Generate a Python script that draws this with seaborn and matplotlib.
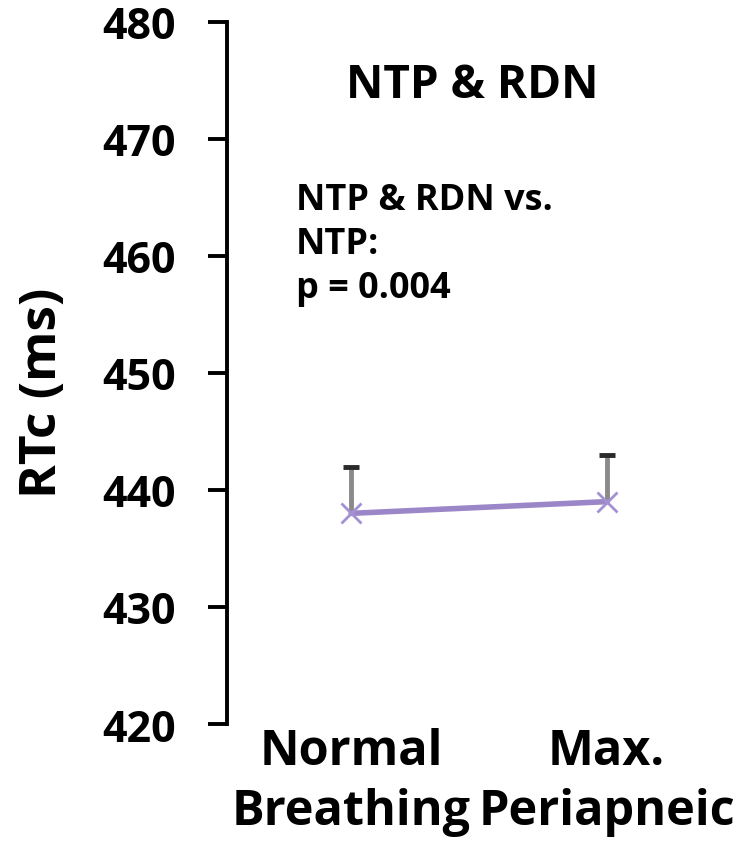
import matplotlib
matplotlib.use("Agg")
import matplotlib.pyplot as plt
import seaborn as sns
import pandas as pd

categories = ["Normal\nBreathing", "Max.\nPeriapneic"]
rtc_mean = [438, 439]
rtc_upper_err = [4, 4]
y_ticks = [420, 430, 440, 450, 460, 470, 480]
title_text = "NTP & RDN"
note_text = "NTP & RDN vs.\nNTP:\np = 0.004"

sns.set_theme(style="white")
plt.rcParams['font.family'] = ['Open Sans', 'DejaVu Sans']
plt.rcParams['font.weight'] = 'bold'
plt.rcParams['text.color'] = 'black'
plt.rcParams['axes.labelcolor'] = 'black'
plt.rcParams['xtick.color'] = 'black'
plt.rcParams['ytick.color'] = 'black'

df = pd.DataFrame({"cond": categories, "rtc": rtc_mean})

fig = plt.figure(figsize=(7.55, 8.45), dpi=100)
ax = fig.add_axes([0.3007, 0.142, 0.667, 0.831])

xpos = list(range(len(categories)))
ax.errorbar(xpos, rtc_mean, yerr=[[0] * len(rtc_upper_err), rtc_upper_err],
            fmt='none', ecolor='#8a8a8a', elinewidth=3.5, capsize=0, zorder=2)
ax.errorbar(xpos, [m + e for m, e in zip(rtc_mean, rtc_upper_err)], yerr=None,
            fmt='_', color='#2a2a2a', markersize=12, markeredgewidth=3.5, zorder=3)

sns.lineplot(data=df, x="cond", y="rtc", ax=ax, color='#9b86c8', linewidth=4,
             marker='x', markersize=15, markeredgewidth=2, markeredgecolor='#a391d2',
             sort=False, zorder=4)

ax.set_ylim(420, 480)
ax.set_xlim(-0.486, 1.486)
ax.set_yticks(y_ticks)
ax.set_yticklabels([str(t) for t in y_ticks], fontsize=31, fontweight='bold')
ax.set_xticks(xpos)
ax.set_xticklabels(categories, fontsize=35, fontweight='bold', linespacing=1.3)
ax.set_xlabel("")
ax.set_ylabel("RTc (ms)", fontsize=37, fontweight='bold')
ax.yaxis.set_label_coords(-0.316, 0.473)

for s in ['top', 'right', 'bottom']:
    ax.spines[s].set_visible(False)
ax.spines['left'].set_color('black')
ax.spines['left'].set_linewidth(2.8)
ax.tick_params(axis='y', direction='out', length=14, width=2.8, color='black', pad=23, left=True)
ax.tick_params(axis='x', length=0, pad=2)

ax.text(0.475, 473.6, title_text, ha='center', va='baseline', fontsize=33, fontweight='bold')
ax.text(-0.216, 466.3, note_text, ha='left', va='top', fontsize=26, fontweight='bold',
        linespacing=1.3)
fig.savefig("out.png", dpi=100)
